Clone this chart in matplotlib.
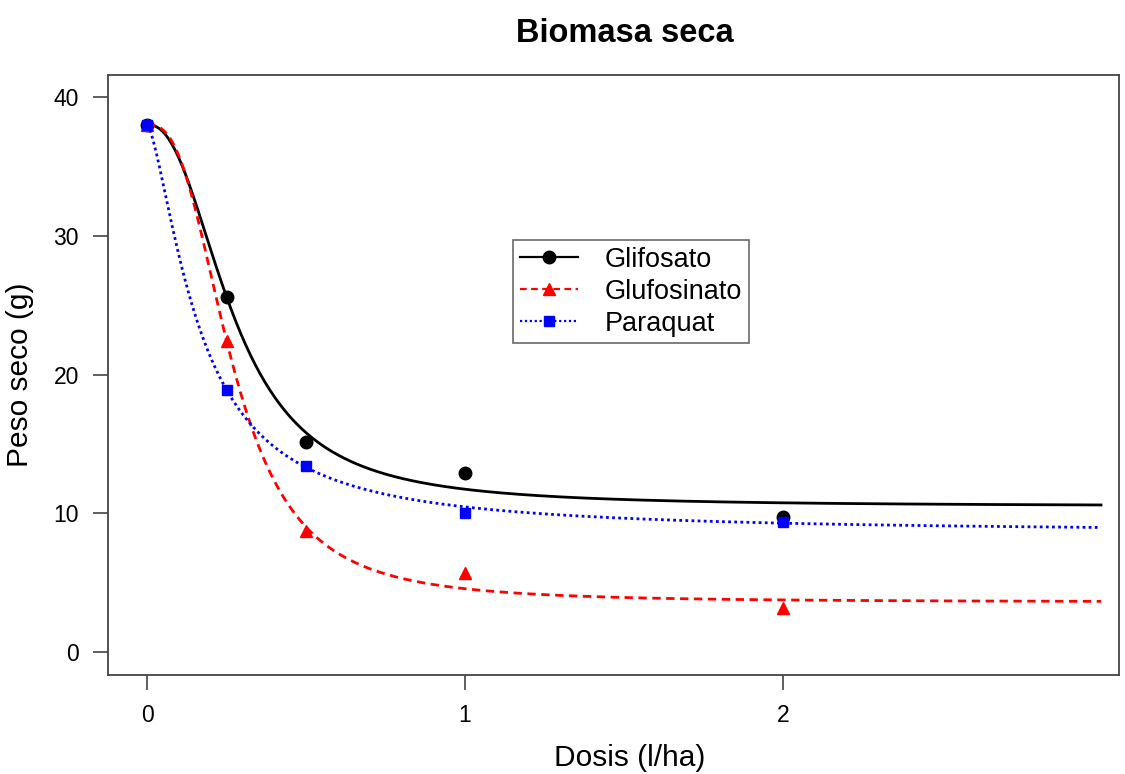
import numpy as np
import matplotlib
matplotlib.use('Agg')
import matplotlib.pyplot as plt

plt.rcParams['font.family'] = ['Liberation Sans', 'DejaVu Sans']

# observed means (dose in l/ha, dry weight in g)
dosis = [0, 0.25, 0.5, 1, 2]
glifosato = [38.0, 25.6, 15.1, 12.9, 9.7]
glufosinato = [38.0, 22.4, 8.7, 5.7, 3.2]
paraquat = [38.0, 18.9, 13.4, 10.0, 9.4]

# log-logistic (LL.4) fit parameters: b, c, d, e
fit_glifosato = (2.35, 10.5, 38.0, 0.272)
fit_glufosinato = (2.70, 3.6, 38.0, 0.2685)
fit_paraquat = (1.50, 8.6, 38.0, 0.1657)

x_ticks = [0, 1, 2]
y_ticks = [0, 10, 20, 30, 40]


def ll4(x, b, c, d, e):
    x = np.asarray(x, dtype=float)
    with np.errstate(divide='ignore'):
        r = np.exp(b * (np.log(x) - np.log(e)))
    return c + (d - c) / (1 + r)


fig = plt.figure(figsize=(11.25, 7.74), dpi=100)
ax = fig.add_axes([108 / 1125, 1 - 675 / 774, (1119 - 108) / 1125, 600 / 774])

xs = np.linspace(0, 3, 600)
series = [
    ('Glifosato', glifosato, fit_glifosato, 'black', '-', 'o', 9),
    ('Glufosinato', glufosinato, fit_glufosinato, 'red', (0, (3, 2)), '^', 9),
    ('Paraquat', paraquat, fit_paraquat, 'blue', (0, (1, 1.2)), 's', 7.5),
]
for name, obs, pars, col, ls, mk, ms in series:
    ax.plot(xs, ll4(xs, *pars), color=col, linestyle=ls, linewidth=2.0)
    ax.plot(dosis, obs, linestyle='none', marker=mk, color=col, markersize=ms)
    ax.plot([], [], color=col, linestyle=ls, linewidth=1.6, marker=mk,
             markersize=ms, label=name)

ax.set_xlim((108 - 147) / 318, (1119 - 147) / 318)
ax.set_ylim((652 - 675) / 13.875, (652 - 75) / 13.875)
ax.set_xticks(x_ticks)
ax.set_yticks(y_ticks)
ax.tick_params(axis='both', direction='out', length=11, width=1.2,
               color='#444444', labelsize=16.5, pad=10)
for s in ax.spines.values():
    s.set_linewidth(1.3)
    s.set_color('#444444')

# R centres the title and x label on the figure, a bit right of the box centre
ax.set_xlabel('Dosis (l/ha)', fontsize=21.5, va='center')
ax.xaxis.set_label_coords((630 - 108) / 1011, -(758 - 675) / 600)
ax.set_ylabel('Peso seco (g)', fontsize=21.5, labelpad=14)
ax.set_title('Biomasa seca', fontsize=23.5, fontweight='bold', pad=24,
             x=(625 - 108) / 1011)

leg = ax.legend(loc='upper left', bbox_to_anchor=((513 - 108) / 1011, (675 - 240) / 600),
                fontsize=19.5, frameon=True, fancybox=False, handlelength=2.15,
                borderpad=0.25, labelspacing=0.22, handletextpad=1.0,
                borderaxespad=0)
leg.get_frame().set_edgecolor('#444444')
leg.get_frame().set_linewidth(1.2)

fig.savefig('out.png', dpi=100)
